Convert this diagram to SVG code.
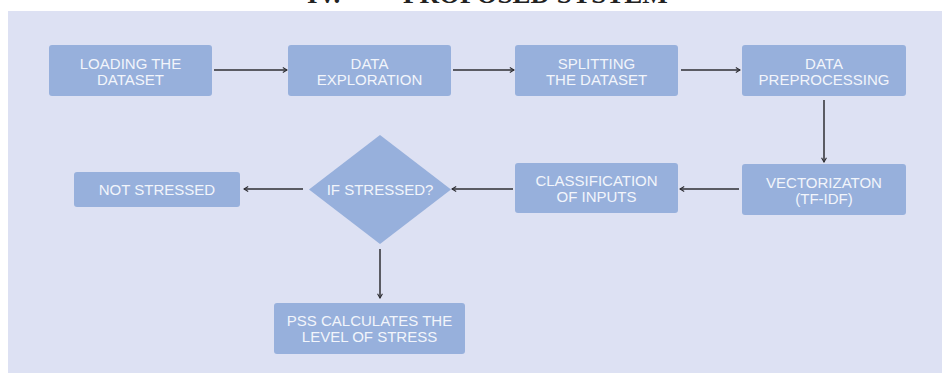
<svg xmlns="http://www.w3.org/2000/svg" width="948" height="377" viewBox="0 0 948 377">
<defs>
<style>
.box{fill:#97b0dc;}
.lbl{font-family:"Liberation Sans",Arial,sans-serif;font-size:15px;fill:#f2f5fb;text-anchor:middle;}
.con{stroke:#2e2e33;stroke-width:1.5;fill:none;}
.title{font-family:"Liberation Serif","Times New Roman",serif;font-weight:bold;font-size:27px;fill:#222;}
</style>
<marker id="ah" viewBox="0 0 10 10" refX="9" refY="5" markerWidth="7" markerHeight="7" orient="auto" markerUnits="userSpaceOnUse">
<path d="M3,1.5 L9,5 L3,8.5" fill="none" stroke="#2e2e33" stroke-width="1.6"/>
</marker>
</defs>
<rect x="0" y="0" width="948" height="377" fill="#ffffff"/>
<rect x="8" y="11" width="934" height="362" fill="#dde1f3"/>
<text class="title" x="307" y="3">IV.</text>
<text class="title" x="403" y="3">PROPOSED SYSTEM</text>

<g id="connectors">
<line class="con" x1="214" y1="70" x2="287" y2="70" marker-end="url(#ah)"/>
<line class="con" x1="453" y1="70" x2="514" y2="70" marker-end="url(#ah)"/>
<line class="con" x1="681" y1="70" x2="740" y2="70" marker-end="url(#ah)"/>
<line class="con" x1="824" y1="100" x2="824" y2="162" marker-end="url(#ah)"/>
<line class="con" x1="739" y1="189" x2="680" y2="189" marker-end="url(#ah)"/>
<line class="con" x1="513" y1="189" x2="452" y2="189" marker-end="url(#ah)"/>
<line class="con" x1="303" y1="189" x2="244" y2="189" marker-end="url(#ah)"/>
<line class="con" x1="380" y1="249" x2="380" y2="298" marker-end="url(#ah)"/>
</g>

<g id="n1"><rect class="box" x="49" y="45" width="163" height="51" rx="3"/>
<text class="lbl" x="130.5" y="68.5">LOADING THE</text><text class="lbl" x="130.5" y="84.5">DATASET</text></g>
<g id="n2"><rect class="box" x="288" y="45" width="163" height="51" rx="3"/>
<text class="lbl" x="369.5" y="68.5">DATA</text><text class="lbl" x="369.5" y="84.5">EXPLORATION</text></g>
<g id="n3"><rect class="box" x="515" y="45" width="163" height="51" rx="3"/>
<text class="lbl" x="596.5" y="68.5">SPLITTING</text><text class="lbl" x="596.5" y="84.5">THE DATASET</text></g>
<g id="n4"><rect class="box" x="742" y="45" width="164" height="51" rx="3"/>
<text class="lbl" x="824" y="68.5">DATA</text><text class="lbl" x="824" y="84.5">PREPROCESSING</text></g>
<g id="n5"><rect class="box" x="742" y="164" width="164" height="51" rx="3"/>
<text class="lbl" x="824" y="187.5">VECTORIZATON</text><text class="lbl" x="824" y="203.5">(TF-IDF)</text></g>
<g id="n6"><rect class="box" x="515" y="163" width="163" height="50" rx="3"/>
<text class="lbl" x="596.5" y="185.5">CLASSIFICATION</text><text class="lbl" x="596.5" y="201.5">OF INPUTS</text></g>
<g id="n7"><polygon class="box" points="380,135 451,189.5 380,244 309,189.5"/>
<text class="lbl" x="380" y="195">IF STRESSED?</text></g>
<g id="n8"><rect class="box" x="74" y="172" width="166" height="35" rx="3"/>
<text class="lbl" x="157" y="195">NOT STRESSED</text></g>
<g id="n9"><rect class="box" x="274" y="303" width="191" height="51" rx="3"/>
<text class="lbl" x="369.5" y="326">PSS CALCULATES THE</text><text class="lbl" x="369.5" y="342">LEVEL OF STRESS</text></g>
</svg>
